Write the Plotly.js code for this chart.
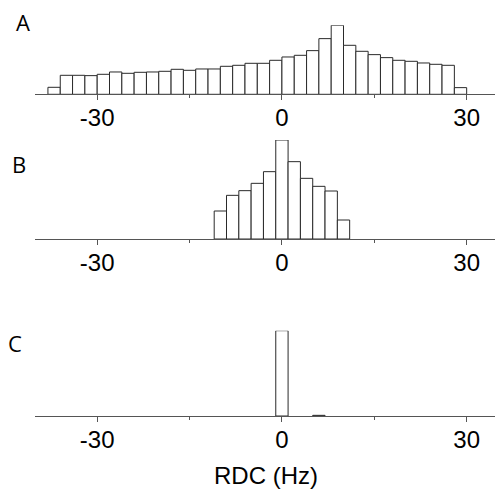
<!DOCTYPE html>
<html>
<head>
<meta charset="utf-8">
<script src="https://cdn.plot.ly/plotly-3.0.1.min.js"></script>
<style>html,body{margin:0;padding:0;background:#fff;}#chart{width:495px;height:489px;}</style>
</head>
<body>
<div id="chart"></div>
<script>
// Bin centres (Hz) and heights (arbitrary counts)
const binsA = [-37,-35,-33,-31,-29,-27,-25,-23,-21,-19,-17,-15,-13,-11,-9,-7,-5,-3,-1,1,3,5,7,9,11,13,15,17,19,21,23,25,27,29];
const countsA = [21,57,57,56,60,67,63,66,67,69,75,72,76,76,84,87,93,93,102,112,117,131,167,207,147,129,119,110,102,99,94,90,87,20];
const binsB = [-10,-8,-6,-4,-2,0,2,4,6,8,10];
const countsB = [84,131,145,167,202,297,232,182,158,144,57];
const binsC = [0,6];
const countsC = [256,2];
const panelLabels = ['A','B','C'];
const tickVals = [-30,0,30];
const tickText = ['-30','0','30'];
const xTitle = 'RDC (Hz)';

const H = 489;
const frac = y => 1 - y / H;
const barStyle = {color:'#ffffff', line:{color:'#2a2a2a', width:1}};

const traces = [
  {type:'bar', x:binsA, y:countsA, width:2, marker:barStyle, xaxis:'x', yaxis:'y', hoverinfo:'x+y'},
  {type:'bar', x:binsB, y:countsB, width:2, marker:barStyle, xaxis:'x2', yaxis:'y2', hoverinfo:'x+y'},
  {type:'bar', x:binsC, y:countsC, width:2, marker:barStyle, xaxis:'x3', yaxis:'y3', hoverinfo:'x+y'}
];

const xbase = (anchor) => ({
  domain:[35/495, 1], range:[-40.1, 34.6], anchor:anchor,
  showline:true, linecolor:'#555', linewidth:1,
  ticks:'outside', ticklen:5, tickcolor:'#555', tickwidth:1,
  tickvals:tickVals, ticktext:tickText, ticklabelstandoff:-3,
  minor:{tickvals:[-15,15], ticks:'outside', ticklen:3, tickcolor:'#555'},
  showgrid:false, zeroline:false,
  tickfont:{family:'Liberation Sans, Arial, sans-serif', size:24, color:'#000'}
});
const ybase = (d0, d1, top) => ({
  domain:[d0, d1], range:[0, top], visible:false, fixedrange:true
});

const layout = {
  width:495, height:489,
  margin:{l:0, r:0, t:0, b:0},
  paper_bgcolor:'#fff', plot_bgcolor:'rgba(0,0,0,0)',
  showlegend:false, bargap:0,
  xaxis: xbase('y'),
  xaxis2: xbase('y2'),
  xaxis3: xbase('y3'),
  yaxis: ybase(frac(94.3), frac(25.3), 207),
  yaxis2: ybase(frac(239), frac(140), 297),
  yaxis3: ybase(frac(416), frac(330.7), 256),
  annotations:[
    {text:panelLabels[0], x:23/495, y:frac(22), xref:'paper', yref:'paper', showarrow:false, xanchor:'center', yanchor:'middle', font:{family:'Open Sans, sans-serif', size:22, color:'#000'}},
    {text:panelLabels[1], x:19/495, y:frac(164), xref:'paper', yref:'paper', showarrow:false, xanchor:'center', yanchor:'middle', font:{family:'Open Sans, sans-serif', size:22, color:'#000'}},
    {text:panelLabels[2], x:15/495, y:frac(343), xref:'paper', yref:'paper', showarrow:false, xanchor:'center', yanchor:'middle', font:{family:'Open Sans, sans-serif', size:22, color:'#000'}},
    {text:xTitle, x:266/495, y:frac(475), xref:'paper', yref:'paper', showarrow:false, xanchor:'center', yanchor:'middle', font:{family:'Liberation Sans, Arial, sans-serif', size:24, color:'#000'}}
  ]
};

Plotly.newPlot('chart', traces, layout, {displayModeBar:false, staticPlot:true});
</script>
</body>
</html>
